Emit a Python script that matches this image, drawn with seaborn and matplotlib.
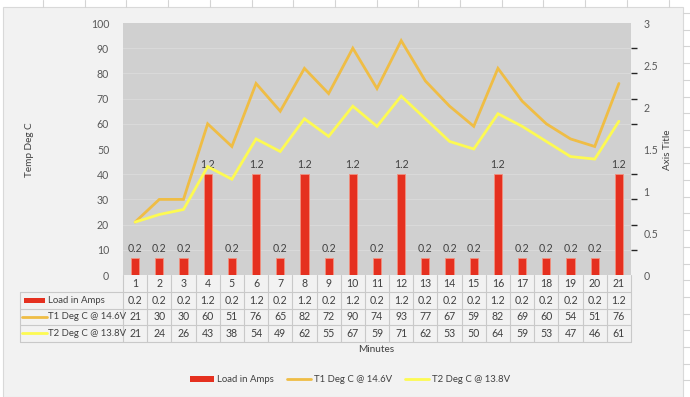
import numpy as np
import pandas as pd
import matplotlib
matplotlib.use("Agg")
import matplotlib.pyplot as plt
import seaborn as sns
from matplotlib.lines import Line2D
from matplotlib.patches import Rectangle
from matplotlib.transforms import blended_transform_factory

# ---- data ----
minutes = list(range(1, 22))
load_amps = [0.2, 0.2, 0.2, 1.2, 0.2, 1.2, 0.2, 1.2, 0.2, 1.2, 0.2, 1.2, 0.2, 0.2, 0.2, 1.2, 0.2, 0.2, 0.2, 0.2, 1.2]
t1_temp = [21, 30, 30, 60, 51, 76, 65, 82, 72, 90, 74, 93, 77, 67, 59, 82, 69, 60, 54, 51, 76]
t2_temp = [21, 24, 26, 43, 38, 54, 49, 62, 55, 67, 59, 71, 62, 53, 50, 64, 59, 53, 47, 46, 61]
series_names = ["Load in Amps", "T1 Deg C @ 14.6V", "T2 Deg C @ 13.8V"]
left_title = "Temp Deg C"
right_title = "Axis Title"
x_title = "Minutes"

# ---- style ----
sns.set_theme(style="white")
plt.rcParams["font.family"] = ["Lato", "DejaVu Sans"]
C_BAR = "#e5301f"
C_T1 = "#efbd45"
C_T2 = "#fdfa52"
C_TXT = "#404040"
C_TICK = "#595959"
C_GRID_TBL = "#c9c9c9"
FS = 7.6
FS_LBL = 6.9

W, H = 690, 397
fig = plt.figure(figsize=(W / 100, H / 100), dpi=100)
fig.patch.set_facecolor("white")

def fx(px):
    return px / W

def fy(py):
    return 1 - py / H

# spreadsheet cell lines in the margins
for xv in np.arange(43, W, 41.7):
    fig.add_artist(Line2D([fx(xv), fx(xv)], [fy(0), fy(7)], color="#d4d4d4", lw=0.8))
for yv in np.arange(13, H, 16.7):
    fig.add_artist(Line2D([fx(683), fx(W)], [fy(yv), fy(yv)], color="#d4d4d4", lw=0.8))
# chart area
fig.add_artist(Rectangle((fx(3), fy(H)), fx(683) - fx(3), fy(7) - fy(H),
                         facecolor="#f2f2f2", edgecolor="#d9d9d9", lw=0.8, zorder=0))

# plot area
L, R, T, B = 123, 631, 23, 275
ax = fig.add_axes([fx(L), fy(B), fx(R) - fx(L), fy(T) - fy(B)])
ax2 = ax.twinx()
ax.set_zorder(2)
ax2.set_zorder(1)
ax.patch.set_visible(False)
ax2.patch.set_visible(True)
ax2.patch.set_facecolor("#d0d0d0")

df = pd.DataFrame({"Minute": minutes, "Load": load_amps, "T1": t1_temp, "T2": t2_temp})
df["pos"] = np.arange(len(df))

# bars on secondary axis
sns.barplot(data=df, x="Minute", y="Load", ax=ax2, color=C_BAR, width=0.34,
            saturation=1, edgecolor="#f2907f", linewidth=0.6, zorder=3)
ax2.bar_label(ax2.containers[0], labels=[f"{v:.1f}" for v in load_amps],
              padding=3, fontsize=FS, color=C_TXT)
ax2.set_ylim(0, 3)
ax2.set_yticks(np.arange(0, 3.01, 0.5))
ax2.set_yticklabels([f"{v:g}" for v in np.arange(0, 3.01, 0.5)])
ax2.set_yticks(np.linspace(0, 3, 11), minor=True)
ax2.grid(True, which="minor", axis="y", color="#d9d9d9", lw=0.8, zorder=0)
ax2.grid(False, which="major")
ax2.set_axisbelow(True)

# lines on primary axis
sns.lineplot(data=df, x="pos", y="T1", ax=ax, color=C_T1, lw=2.0, solid_joinstyle="miter")
sns.lineplot(data=df, x="pos", y="T2", ax=ax, color=C_T2, lw=2.0, solid_joinstyle="miter")
ax.set_ylim(0, 100)
ax.set_yticks(np.arange(0, 101, 10))
ax.set_xlim(-0.5, len(minutes) - 0.5)
ax2.set_xlim(-0.5, len(minutes) - 0.5)

for a in (ax, ax2):
    for s in a.spines.values():
        s.set_visible(False)
    a.set_xlabel("")
    a.set_ylabel("")
    a.set_xticks([])
    a.tick_params(axis="y", length=0, labelsize=FS, labelcolor=C_TICK)
ax.tick_params(axis="y", pad=10)
ax2.tick_params(axis="y", pad=9)

# axis titles
fig.text(fx(29), fy(150), left_title, rotation=90, ha="center", va="center", fontsize=7.2, color=C_TXT)
fig.text(fx(667), fy(150), right_title, rotation=90, ha="center", va="center", fontsize=7.2, color=C_TXT)
fig.text(fx(376), fy(350), x_title, ha="center", va="center", fontsize=7.2, color=C_TXT)

# ---- data table ----
tr = blended_transform_factory(ax.transData, fig.transFigure)
row_edges = [275, 292, 308.5, 325, 341.5]
n = len(minutes)
for k in range(n + 1):
    ax.add_artist(Line2D([k - 0.5, k - 0.5], [fy(row_edges[0]), fy(row_edges[-1])],
                         transform=tr, color=C_GRID_TBL, lw=0.8, clip_on=False))
for yv in row_edges[1:]:
    fig.add_artist(Line2D([fx(20), fx(R)], [fy(yv), fy(yv)], color=C_GRID_TBL, lw=0.8))
fig.add_artist(Line2D([fx(20), fx(20)], [fy(row_edges[1]), fy(row_edges[-1])], color=C_GRID_TBL, lw=0.8))

rows = [[str(m) for m in minutes],
        [f"{v:.1f}" for v in load_amps],
        [str(v) for v in t1_temp],
        [str(v) for v in t2_temp]]
for r, vals in enumerate(rows):
    yc = fy((row_edges[r] + row_edges[r + 1]) / 2)
    for i, s in enumerate(vals):
        ax.text(i, yc, s, transform=tr, ha="center", va="center", fontsize=FS, color=C_TXT, clip_on=False)

# row labels with legend keys
for r, name in enumerate(series_names):
    yc = fy((row_edges[r + 1] + row_edges[r + 2]) / 2)
    if r == 0:
        fig.add_artist(Rectangle((fx(24), yc - 2.5 / H), fx(45) - fx(24), 5 / H,
                                 facecolor=C_BAR, edgecolor="none"))
    else:
        fig.add_artist(Line2D([fx(22), fx(47)], [yc, yc], color=[C_T1, C_T2][r - 1], lw=2.0))
    fig.text(fx(47.5), yc, name, ha="left", va="center", fontsize=FS_LBL, color=C_TXT)

# ---- bottom legend ----
handles = [Rectangle((0, 0), 1, 1, facecolor=C_BAR, edgecolor="none"),
           Line2D([0], [0], color=C_T1, lw=2.0),
           Line2D([0], [0], color=C_T2, lw=2.0)]
fig.legend(handles, series_names, loc="center", bbox_to_anchor=(fx(350), fy(380)),
           ncol=3, frameon=False, fontsize=FS_LBL, labelcolor=C_TXT,
           handlelength=2.5, handleheight=0.5, columnspacing=1.4, handletextpad=0.3)

fig.savefig("out.png", dpi=100)
